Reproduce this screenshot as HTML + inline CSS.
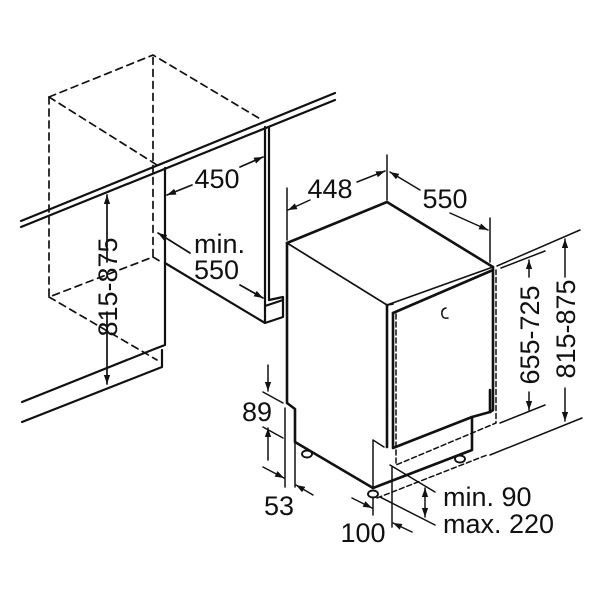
<!DOCTYPE html>
<html><head><meta charset="utf-8"><style>
html,body{margin:0;padding:0;background:#fff;}
svg{display:block;}
text{font-family:"Liberation Sans",Arial,sans-serif;fill:#111;font-size:27px;}
</style></head><body>
<svg width="600" height="600" viewBox="0 0 600 600" xmlns="http://www.w3.org/2000/svg">
<defs>
<marker id="a" viewBox="0 0 10 10" refX="10" refY="5" markerWidth="9" markerHeight="9" orient="auto-start-reverse" markerUnits="userSpaceOnUse">
<path d="M0,1.5 L10,5 L0,8.5 z" fill="#111"/></marker>
</defs>
<g stroke="#111" fill="none" stroke-linecap="round" stroke-linejoin="round">
<g stroke-width="1.7" stroke-dasharray="7,5">
<path d="M49,97 L153,55 L262,120"/>
<path d="M49,97 L157,165"/>
<path d="M49,97 L49,297 L153,257 L153,55"/>
<path d="M49,297 L157,360"/>
<path d="M153,257 L163,263"/>
</g>
<g stroke-width="2.2">
<path d="M21,221 L335,93"/>
<path d="M21,227 L335,100"/>
<path d="M165,168 L165,345 L157,348 L22,402"/>
<path d="M162,350 L162,367 L22,422"/>
<path d="M265,127 L265,322"/>
<path d="M269,128 L269,300"/>
<path d="M165,263 L265,323 L283,317 L283,297 L269,300"/>
<path d="M265,306 L283,300"/>
</g>
<g stroke-width="1.7">
<path d="M107,262 L107,195" marker-end="url(#a)"/>
<path d="M107,312 L107,384" marker-end="url(#a)"/>
<path d="M192,185 L167,195" marker-end="url(#a)"/>
<path d="M240,167 L263,157" marker-end="url(#a)"/>
<path d="M190,253 L158,233" marker-end="url(#a)"/>
<path d="M240,285 L263,298" marker-end="url(#a)"/>
</g>
<g stroke-width="2.6">
<path d="M287,243 L387,202 L493,267"/>
<path d="M287,243 L287,403 L295,409 L295,442 L373,488 L472,450 L472,417 L490,412 L490,390"/>
<path d="M493,267 L493,410 L490,412"/>
<path d="M393,313 L493,270"/>
<path d="M393,313 L393,448 L472,417"/>
<path d="M387,305 L387,447"/>
</g>
<path d="M287,243 L387,305 L493,267" stroke-width="1.7"/>
<path d="M387,305 L393,304" stroke-width="1.7"/>
<path d="M373,440 L373,488 M373,440 L384,447" stroke-width="1.5"/>
<path d="M446,308 q-5,1 -4,7 q1,4 6,3" stroke-width="1.5"/>
<g stroke-width="1.5" stroke-dasharray="5,3">
<path d="M396,314 L396,465 L496,423 L496,270"/>
<path d="M377,498 L487,455"/>
</g>
<g stroke-width="1.9" fill="#fff">
<ellipse cx="307" cy="454" rx="5" ry="3.5"/>
<ellipse cx="373" cy="494" rx="5" ry="3.5"/>
<ellipse cx="460" cy="459" rx="5" ry="3.5"/>
</g>
<g stroke-width="1.5">
<path d="M287,188 L287,240"/>
<path d="M387,155 L387,200"/>
<path d="M490,218 L490,262"/>
<path d="M310,200 L288,210" marker-end="url(#a)"/>
<path d="M357,182 L385,171" marker-end="url(#a)"/>
<path d="M420,190 L390,172" marker-end="url(#a)"/>
<path d="M450,213 L488,230" marker-end="url(#a)"/>
<path d="M497,266 L580,230"/>
<path d="M501,268 L545,251"/>
<path d="M500,423 L545,405"/>
<path d="M490,455 L582,418"/>
<path d="M529,277 L529,260" marker-end="url(#a)"/>
<path d="M529,392 L529,410" marker-end="url(#a)"/>
<path d="M565,277 L565,239" marker-end="url(#a)"/>
<path d="M565,388 L565,421" marker-end="url(#a)"/>
<path d="M263,392 L283,403"/>
<path d="M263,427 L283,438"/>
<path d="M268,365 L268,391" marker-end="url(#a)"/>
<path d="M268,460 L268,428" marker-end="url(#a)"/>
<path d="M285,408 L285,487"/>
<path d="M295,443 L295,487"/>
<path d="M263,467 L284,478" marker-end="url(#a)"/>
<path d="M313,495 L296,485" marker-end="url(#a)"/>
<path d="M373,497 L373,515"/>
<path d="M392,467 L392,527"/>
<path d="M352,498 L372,508" marker-end="url(#a)"/>
<path d="M412,532 L393,523" marker-end="url(#a)"/>
<path d="M390,465 L435,492"/>
<path d="M380,497 L435,525"/>
<path d="M425,502 L425,488" marker-end="url(#a)"/>
<path d="M425,503 L425,517" marker-end="url(#a)"/>
</g>
</g>
<text x="217" y="188" text-anchor="middle">450</text>
<text x="194" y="253">min.</text>
<text x="194" y="279">550</text>
<text transform="translate(117,287) rotate(-90)" text-anchor="middle">815-875</text>
<text x="330" y="198" text-anchor="middle">448</text>
<text x="445" y="208" text-anchor="middle">550</text>
<text transform="translate(539,335) rotate(-90)" text-anchor="middle">655-725</text>
<text transform="translate(575,329) rotate(-90)" text-anchor="middle">815-875</text>
<text x="257" y="421" text-anchor="middle">89</text>
<text x="279" y="515" text-anchor="middle">53</text>
<text x="363" y="542" text-anchor="middle">100</text>
<text x="443" y="506">min. 90</text>
<text x="443" y="533">max. 220</text>
</svg>
</body></html>
